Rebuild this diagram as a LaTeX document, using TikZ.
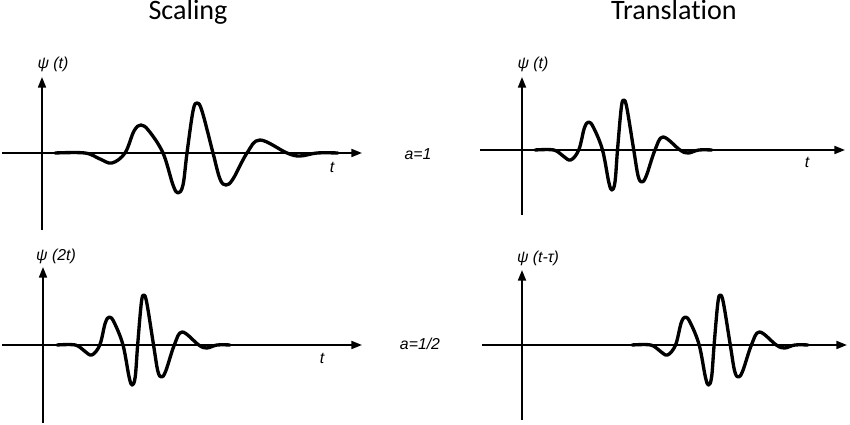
\documentclass[tikz,border=0pt]{standalone}
\usepackage{fontspec}
\setmainfont{Liberation Sans}
\newfontfamily\titlefont[Ligatures=NoCommon]{Carlito}
\usetikzlibrary{arrows.meta}

\begin{document}
\begin{tikzpicture}[
  x=0.02cm, y=-0.02cm,
  axis/.style={line width=1.1pt, -{Triangle[length=6pt,width=4.5pt]}},
  wave/.style={line width=1.9pt, line join=round, line cap=round},
  lbl/.style={font=\fontsize{9}{10}\selectfont\itshape, inner sep=0pt},
  ttl/.style={font=\titlefont\fontsize{16}{18}\selectfont, anchor=base, inner sep=0pt},
  wavelet/.pic={
    \draw[wave] plot[smooth, tension=0.6] coordinates {
      (0,0) (30,0) (45,6) (57,10) (70,0) (79,-22) (86,-28) (94,-22)
      (108,0) (118,32) (123,40) (128,32) (132,0) (138,-42) (142,-50)
      (147,-42) (158,0) (165,26) (171,32) (178,26) (192,0) (205,-13)
      (232,0) (245,3) (262,0) (283,0)};
  }
]
  \useasboundingbox (0,0) rectangle (850,425);

  %% Titles
  \node[ttl] (scaling) at (188,20) {Scaling};
  \node[ttl] (transl)  at (674,20) {Translation};

  %% Scaling, a=1
  \draw[axis] (42,230) -- (42,77);
  \draw[axis] (2,153) -- (362,153);
  \pic at (55,153) {wavelet};
  \node[lbl] (psiA) at (53,64)  {ψ (t)};
  \node[lbl] (tA)   at (332,167) {t};

  %% Translation, a=1
  \draw[axis] (522,215) -- (522,77);
  \draw[axis] (480,150) -- (845,150);
  \pic[xscale=0.625] at (535,150) {wavelet};
  \node[lbl] (psiB) at (533,64)  {ψ (t)};
  \node[lbl] (tB)   at (807,162) {t};

  %% Scaling, a=1/2
  \draw[axis] (43,423) -- (43,267);
  \draw[axis] (2,345) -- (362,345);
  \pic[xscale=0.611] at (57,345) {wavelet};
  \node[lbl] (psiC) at (56,256)  {ψ (2t)};
  \node[lbl] (tC)   at (322,358) {t};

  %% Translation, a=1/2
  \draw[axis] (522,420) -- (522,270);
  \draw[axis] (482,345) -- (847,345);
  \pic[xscale=0.622] at (632,345) {wavelet};
  \node[lbl] (psiD) at (538,258) {ψ (t-τ)};

  %% Scale factors
  \node[lbl] (aone)  at (418,154) {a=1};
  \node[lbl] (ahalf) at (420,344) {a=1/2};
\end{tikzpicture}
\end{document}
